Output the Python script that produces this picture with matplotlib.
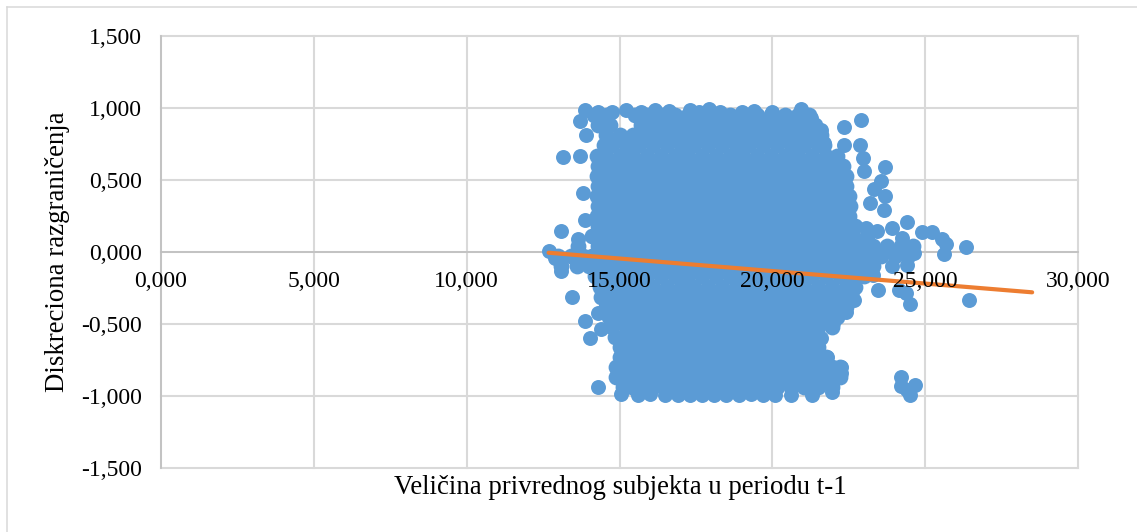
import matplotlib
matplotlib.use("Agg")
import matplotlib.pyplot as plt
from matplotlib.lines import Line2D

plt.rcParams['font.family'] = ['Liberation Serif', 'DejaVu Serif']

x_ticks = [0, 5, 10, 15, 20, 25, 30]
x_tick_labels = ['0,000', '5,000', '10,000', '15,000', '20,000', '25,000', '30,000']
y_ticks = [-1.5, -1.0, -0.5, 0, 0.5, 1.0, 1.5]
y_tick_labels = ['-1,500', '-1,000', '-0,500', '0,000', '0,500', '1,000', '1,500']
x_title = 'Veličina privrednog subjekta u periodu t-1'
y_title = 'Diskreciona razgraničenja'

# Dense body of the cloud, read band by band
band_y = [0.95, 0.88, 0.81, 0.74, 0.67, 0.60, 0.53, 0.46, 0.39, 0.32, 0.25, 0.18, 0.11, 0.04,
          -0.03, -0.10, -0.17, -0.24, -0.31, -0.38, -0.45, -0.52, -0.59, -0.66, -0.73, -0.80, -0.87, -0.94]
band_x = [
 [14.15,14.6,15.5,15.9,16.35,16.8,17.25,17.7,18.15,18.6,19.05,19.5,19.95,20.4,20.85,21.2],
 [14.3,14.7,15.7,16.1,16.55,17.0,17.45,17.9,18.35,18.8,19.25,19.7,20.15,20.6,21.05,21.4],
 [14.55,15.0,15.45,15.9,16.35,16.8,17.25,17.7,18.15,18.6,19.05,19.5,19.95,20.4,20.85,21.3,21.6],
 [14.5,14.75,15.2,15.65,16.1,16.55,17.0,17.45,17.9,18.35,18.8,19.25,19.7,20.15,20.6,21.05,21.5,21.7],
 [14.25,14.55,15.0,15.45,15.9,16.35,16.8,17.25,17.7,18.15,18.6,19.05,19.5,19.95,20.4,20.85,21.3,21.75,22.1],
 [14.3,14.75,15.2,15.65,16.1,16.55,17.0,17.45,17.9,18.35,18.8,19.25,19.7,20.15,20.6,21.05,21.5,21.95,22.3],
 [14.25,14.55,15.0,15.45,15.9,16.35,16.8,17.25,17.7,18.15,18.6,19.05,19.5,19.95,20.4,20.85,21.3,21.75,22.2,22.4],
 [14.3,14.75,15.2,15.65,16.1,16.55,17.0,17.45,17.9,18.35,18.8,19.25,19.7,20.15,20.6,21.05,21.5,21.95,22.4],
 [14.25,14.55,15.0,15.45,15.9,16.35,16.8,17.25,17.7,18.15,18.6,19.05,19.5,19.95,20.4,20.85,21.3,21.75,22.2,22.5],
 [14.3,14.75,15.2,15.65,16.1,16.55,17.0,17.45,17.9,18.35,18.8,19.25,19.7,20.15,20.6,21.05,21.5,21.95,22.4,22.55],
 [14.25,14.55,15.0,15.45,15.9,16.35,16.8,17.25,17.7,18.15,18.6,19.05,19.5,19.95,20.4,20.85,21.3,21.75,22.2,22.5],
 [14.3,14.75,15.2,15.65,16.1,16.55,17.0,17.45,17.9,18.35,18.8,19.25,19.7,20.15,20.6,21.05,21.5,21.95,22.4,22.7],
 [14.1,14.55,15.0,15.45,15.9,16.35,16.8,17.25,17.7,18.15,18.6,19.05,19.5,19.95,20.4,20.85,21.3,21.75,22.2,22.65,23.1],
 [13.65,14.3,14.75,15.2,15.65,16.1,16.55,17.0,17.45,17.9,18.35,18.8,19.25,19.7,20.15,20.6,21.05,21.5,21.95,22.4,22.85,23.3,23.75,24.2,24.6],
 [13.0,13.4,13.8,14.1,14.55,15.0,15.45,15.9,16.35,16.8,17.25,17.7,18.15,18.6,19.05,19.5,19.95,20.4,20.85,21.3,21.75,22.2,22.65,23.1,23.55,24.0,24.45],
 [13.1,13.6,14.0,14.3,14.75,15.2,15.65,16.1,16.55,17.0,17.45,17.9,18.35,18.8,19.25,19.7,20.15,20.6,21.05,21.5,21.95,22.4,22.85,23.3],
 [14.2,14.55,15.0,15.45,15.9,16.35,16.8,17.25,17.7,18.15,18.6,19.05,19.5,19.95,20.4,20.85,21.3,21.75,22.2,22.65,23.0],
 [14.35,14.75,15.2,15.65,16.1,16.55,17.0,17.45,17.9,18.35,18.8,19.25,19.7,20.15,20.6,21.05,21.5,21.95,22.4,22.7],
 [14.4,14.55,15.0,15.45,15.9,16.35,16.8,17.25,17.7,18.15,18.6,19.05,19.5,19.95,20.4,20.85,21.3,21.75,22.2,22.55],
 [14.55,14.75,15.2,15.65,16.1,16.55,17.0,17.45,17.9,18.35,18.8,19.25,19.7,20.15,20.6,21.05,21.5,21.95,22.4],
 [14.65,15.0,15.45,15.9,16.35,16.8,17.25,17.7,18.15,18.6,19.05,19.5,19.95,20.4,20.85,21.3,21.75,22.1],
 [14.75,15.2,15.65,16.1,16.55,17.0,17.45,17.9,18.35,18.8,19.25,19.7,20.15,20.6,21.05,21.5,21.95],
 [14.85,15.2,15.45,15.9,16.35,16.8,17.25,17.7,18.15,18.6,19.05,19.5,19.95,20.4,20.85,21.3,21.5],
 [15.0,15.2,15.65,16.1,16.55,17.0,17.45,17.9,18.35,18.8,19.25,19.7,20.15,20.6,21.05,21.5],
 [15.0,15.45,15.9,16.35,16.8,17.25,17.7,18.15,18.6,19.05,19.5,19.95,20.4,20.85,21.3,21.75],
 [14.9,15.2,15.65,16.1,16.55,17.0,17.45,17.9,18.35,18.8,19.25,19.7,20.15,20.6,21.05,21.5,21.95,22.2],
 [14.9,15.3,15.45,15.9,16.35,16.8,17.25,17.7,18.15,18.6,19.05,19.5,19.95,20.4,20.85,21.3,21.75,22.2],
 [15.1,15.4,15.65,16.1,16.55,17.0,17.45,17.9,18.35,18.8,19.25,19.7,20.15,20.6,21.05,21.5,21.95],
]

# Edge points read one by one
edge_x = [13.86,14.3,14.75,15.2,15.7,16.17,16.63,17.3,17.6,17.94,18.3,18.6,19.0,19.4,20.0,20.5,20.94,21.27,21.6,
          13.7,13.92,13.15,13.72,13.8,13.86,13.07,13.63,12.68,12.88,13.07,
          13.43,13.86,14.3,14.05,14.38,14.3,15.06,
          22.9,22.35,21.7,22.35,22.87,22.95,23.0,23.68,23.55,23.33,23.68,23.2,23.66,24.4,23.9,23.43,23.07,
          24.9,25.23,25.56,25.69,25.62,26.34,24.64,24.4,24.25,23.9,23.3,23.46,24.15,24.37,24.5,26.44,
          22.6,22.68,22.4,22.0,21.6,21.8,22.25,22.25,21.96,21.3,24.2,24.2,24.67,24.4,24.5,
          15.6,16.0,16.5,16.9,17.3,17.7,18.1,18.5,18.9,19.3,19.7,20.1,20.6]
edge_y = [0.986,0.97,0.975,0.985,0.97,0.985,0.98,0.985,0.975,0.99,0.97,0.95,0.975,0.98,0.975,0.93,0.99,0.93,0.85,
          0.91,0.81,0.66,0.665,0.41,0.22,0.145,0.09,0.007,-0.04,-0.13,
          -0.31,-0.48,-0.425,-0.595,-0.535,-0.935,-0.985,
          0.92,0.87,0.76,0.74,0.74,0.65,0.56,0.59,0.495,0.44,0.39,0.34,0.29,0.21,0.17,0.145,0.165,
          0.14,0.14,0.09,0.055,-0.014,0.035,-0.007,-0.09,0.1,-0.1,-0.16,-0.265,-0.265,-0.285,-0.36,-0.335,
          -0.28,-0.335,-0.415,-0.495,-0.6,-0.73,-0.8,-0.84,-0.97,-0.99,-0.87,-0.93,-0.925,-0.96,-0.99,
          -0.99,-0.985,-0.995,-0.99,-0.995,-0.99,-0.995,-0.99,-0.995,-0.985,-0.995,-0.99,-0.995]

trend_x = [12.68, 28.5]
trend_y = [-0.005, -0.28]

W, H = 1137, 532
fig = plt.figure(figsize=(W/100, H/100), dpi=100, facecolor='white')
# Only the top and left edges of the chart frame fall inside the picture
fig.add_artist(Line2D([7/W, 1], [1-7/H, 1-7/H], transform=fig.transFigure, color='#D9D9D9', linewidth=1.1))
fig.add_artist(Line2D([7/W, 7/W], [0, 1-7/H], transform=fig.transFigure, color='#D9D9D9', linewidth=1.1))

ax = fig.add_axes([161/W, 1-468/H, 917/W, 432/H])
ax.set_xlim(0, 30)
ax.set_ylim(-1.5, 1.5)
ax.set_axisbelow(True)
ax.grid(True, color='#D9D9D9', linewidth=1.5, clip_on=False)
ax.set_xticks(x_ticks)
ax.set_yticks(y_ticks)
ax.set_xticklabels([])
ax.set_yticklabels(y_tick_labels, fontsize=17)
ax.tick_params(axis='both', length=0)
ax.tick_params(axis='y', pad=14)
for gl in ax.get_xgridlines() + ax.get_ygridlines():
    gl.set_clip_on(False)
for side in ('top', 'right'):
    ax.spines[side].set_visible(False)
ax.spines['left'].set_color('#BFBFBF')
ax.spines['left'].set_linewidth(1.2)
ax.spines['bottom'].set_position(('data', 0))
ax.spines['bottom'].set_color('#BFBFBF')
ax.spines['bottom'].set_linewidth(1.2)

body_x = [v for xs in band_x for v in xs]
body_y = [y_val for y_val, xs in zip(band_y, band_x) for _ in xs]
ax.scatter(body_x, body_y, s=130, color='#5B9BD5', linewidths=0, zorder=3, clip_on=False)
ax.scatter(edge_x, edge_y, s=116, color='#5B9BD5', linewidths=0, zorder=3, clip_on=False)
ax.plot(trend_x, trend_y, color='#ED7D31', linewidth=3.0, solid_capstyle='round', zorder=4)

for xv, lab in zip(x_ticks, x_tick_labels):
    ax.annotate(lab, xy=(xv, 0), xytext=(0, -21), textcoords='offset points',
                ha='center', va='center', fontsize=17, color='black', zorder=5,
                annotation_clip=False)

fig.text(620.5/W, 1-487/H, x_title, ha='center', va='center', fontsize=19.3, color='black')
fig.text(57/W, 1-252/H, y_title, ha='center', va='center', rotation=90, fontsize=19.3, color='black')

fig.savefig('out.png', dpi=100)
